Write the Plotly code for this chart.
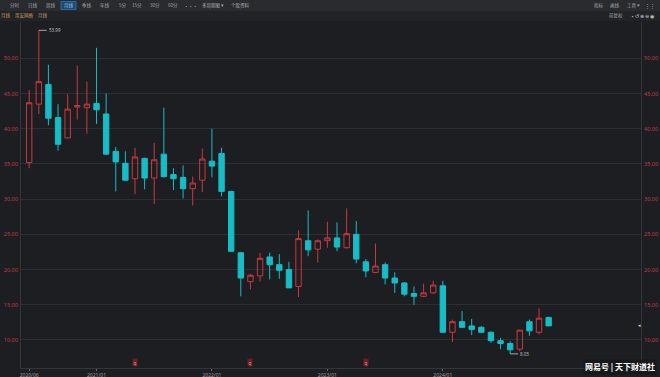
import plotly.graph_objects as go

months = ["2020/06","2020/07","2020/08","2020/09","2020/10","2020/11","2020/12",
          "2021/01","2021/02","2021/03","2021/04","2021/05","2021/06","2021/07","2021/08","2021/09","2021/10","2021/11","2021/12",
          "2022/01","2022/02","2022/03","2022/04","2022/05","2022/06","2022/07","2022/08","2022/09","2022/10","2022/11","2022/12",
          "2023/01","2023/02","2023/03","2023/04","2023/05","2023/06","2023/07","2023/08","2023/09","2023/10","2023/11","2023/12",
          "2024/01","2024/02","2024/03","2024/04","2024/05","2024/06","2024/07","2024/08","2024/09","2024/10","2024/11","2024/12"]
opens = [35.2,43.5,46.3,41.6,38.7,43.1,43.0,
         43.6,42.1,36.8,35.1,32.9,35.8,33.0,36.4,33.5,33.1,31.5,32.7,
         35.4,36.5,31.1,22.4,18.3,19.1,21.8,20.7,20.0,17.6,24.1,22.9,
         24.1,24.5,23.1,25.0,21.1,19.6,20.7,18.8,18.1,16.6,16.2,16.7,
         17.7,11.1,12.6,12.0,11.8,11.1,9.9,9.5,8.7,12.6,11.1,13.2]
highs = [45.5,53.99,49.1,43.5,44.9,49.0,46.7,
         51.5,45.0,37.4,36.8,37.3,35.9,38.0,43.0,34.4,34.8,33.2,37.2,
         40.0,37.3,31.2,22.4,19.4,22.4,22.4,22.2,21.1,25.6,28.4,24.3,
         26.8,26.7,28.7,26.9,21.5,23.7,21.0,19.6,18.2,17.6,18.0,18.4,
         18.4,12.9,14.1,13.0,12.0,11.2,10.3,9.8,11.4,12.9,14.5,13.3]
lows = [34.4,42.1,40.5,36.9,38.6,41.3,39.3,
        40.7,36.3,31.1,32.6,30.7,31.4,29.3,33.1,31.3,30.1,29.1,31.0,
        33.1,30.4,22.5,16.2,17.2,18.3,18.6,18.7,17.4,16.1,21.9,21.0,
        23.1,22.6,23.0,20.9,18.9,19.5,17.9,16.7,16.2,15.0,16.1,16.6,
        11.0,9.7,11.7,10.7,11.0,9.6,8.7,8.03,8.4,10.6,10.8,12.0]
closes = [43.7,46.7,41.5,37.8,42.8,43.3,43.5,
          42.7,36.4,35.3,32.7,36.0,33.0,35.6,33.2,32.9,31.5,32.3,35.7,
          34.7,31.1,22.6,18.8,19.2,21.6,20.7,19.9,17.4,24.4,22.8,24.1,
          24.5,23.2,25.1,21.5,19.8,20.5,18.8,18.1,16.5,16.2,16.7,17.8,
          11.1,12.6,11.8,11.5,11.1,9.9,9.5,8.6,11.4,11.3,13.1,12.0]
x_ticks = ["2020/06","2021/01","2022/01","2023/01","2024/01"]
y_ticks = [10,15,20,25,30,35,40,45,50]
tab_labels = ["分时","日线","周线","月线","季线","年线","5分","15分","30分","60分","•••","多周期图 ▾","个股资料"]
right_tabs = ["指标","画线","工具 ▾"]

W, H = 660, 377
L, R, T, B = 21, 19, 22, 9
PW, PH = W - L - R, H - T - B

def px(x):
    return (x - L) / PW

def py(y):
    return (H - B - y) / PH

BG = "#1d1e22"
RED = "#c8393f"
CYAN = "#17bcc6"
TICKRED = "#c23a44"
CJK = "Noto Sans CJK SC"

fig = go.Figure()
fig.add_trace(go.Candlestick(
    x=months, open=opens, high=highs, low=lows, close=closes,
    increasing=dict(line=dict(color=RED, width=1), fillcolor="rgba(0,0,0,0)"),
    decreasing=dict(line=dict(color=CYAN, width=1), fillcolor=CYAN),
    whiskerwidth=0, hoverinfo="skip", showlegend=False,
))
fig.add_trace(go.Scatter(x=[months[0]], y=[None], yaxis="y2", showlegend=False, hoverinfo="skip"))

shapes = []
annotations = []
shapes.append(dict(type="rect", xref="paper", yref="paper", x0=px(0), x1=px(W), y0=py(0), y1=py(11),
                   fillcolor="#2a2b2f", line=dict(width=0), layer="below"))
shapes.append(dict(type="rect", xref="paper", yref="paper", x0=px(0), x1=px(W), y0=py(11), y1=py(21),
                   fillcolor="#222327", line=dict(width=0), layer="below"))
shapes.append(dict(type="rect", xref="paper", yref="paper", x0=px(61), x1=px(76), y0=py(1.5), y1=py(9.5),
                   fillcolor="#1c4a73", line=dict(color="#2d6aa0", width=1)))

tab_x = [15, 33, 51, 68.5, 87, 105, 122, 137, 155, 173, 191, 213, 240]
for lbl, xx in zip(tab_labels, tab_x):
    annotations.append(dict(xref="paper", yref="paper", x=px(xx), y=py(5.5), text=lbl, showarrow=False,
                            font=dict(size=4.5, color="#9fc7ee" if lbl == "月线" else "#a7a8ad", family=CJK),
                            xanchor="center", yanchor="middle"))
for lbl, xx in zip(right_tabs, [599, 615, 633]):
    annotations.append(dict(xref="paper", yref="paper", x=px(xx), y=py(5.5), text=lbl, showarrow=False,
                            font=dict(size=4.5, color="#a7a8ad", family=CJK),
                            xanchor="center", yanchor="middle"))
annotations.append(dict(xref="paper", yref="paper", x=px(650), y=py(5.5), text="⋮⋮", showarrow=False,
                        font=dict(size=5, color="#a7a8ad"), xanchor="center", yanchor="middle"))
for lbl, xx, col in [("月线", 6, "#d09a5a"), ("用友网络", 24, "#d09a5a"), ("月线", 43, "#b9a07a")]:
    annotations.append(dict(xref="paper", yref="paper", x=px(xx), y=py(15.5), text=lbl, showarrow=False,
                            font=dict(size=4.5, color=col, family=CJK),
                            xanchor="center", yanchor="middle"))
annotations.append(dict(xref="paper", yref="paper", x=px(616), y=py(15.5), text="前复权", showarrow=False,
                        font=dict(size=4.5, color="#a7a8ad", family=CJK),
                        xanchor="center", yanchor="middle"))
annotations.append(dict(xref="paper", yref="paper", x=px(643), y=py(15.5), text="▪ ↺ ⊕ ⊖ ◉", showarrow=False,
                        font=dict(size=4.5, color="#c8c9cc"), xanchor="center", yanchor="middle"))

annotations.append(dict(x=months[1], y=53.99, xref="x", yref="y", text="53.99", showarrow=True,
                        arrowhead=0, arrowwidth=0.8, arrowcolor="#c8c9cc", ax=8, ay=0,
                        xanchor="left", font=dict(size=4.5, color="#c8c9cc")))
annotations.append(dict(x=months[50], y=8.03, xref="x", yref="y", text="8.03", showarrow=True,
                        arrowhead=0, arrowwidth=0.8, arrowcolor="#c8c9cc", ax=8, ay=0,
                        xanchor="left", font=dict(size=4.5, color="#c8c9cc")))

for m in ["2021/05", "2022/05", "2023/05"]:
    annotations.append(dict(x=m, xref="x", yref="paper", y=py(362), text="q", showarrow=False,
                            font=dict(size=4.5, color="#e9a0a0"), bgcolor="#6e1c22", borderpad=0.5,
                            xanchor="center", yanchor="middle"))
annotations.append(dict(xref="paper", yref="paper", x=px(639), y=py(325), text="◂", showarrow=False,
                        font=dict(size=5, color="#d0d0d0"), xanchor="center", yanchor="middle"))
annotations.append(dict(xref="paper", yref="paper", x=px(657), y=py(367), text="<b>网易号 | 天下财道社</b>",
                        showarrow=False, font=dict(size=8, color="#ffffff", family=CJK),
                        xanchor="right", yanchor="middle", bgcolor="rgba(20,20,22,0.6)"))

fig.update_layout(
    width=W, height=H,
    margin=dict(l=L, r=R, t=T, b=B, pad=0, autoexpand=False),
    paper_bgcolor=BG, plot_bgcolor=BG,
    boxgap=0.2, boxmode="overlay",
    showlegend=False,
    shapes=shapes, annotations=annotations,
    xaxis=dict(type="category", range=[-0.85, 63.6], rangeslider=dict(visible=False),
               tickvals=x_ticks, ticktext=x_ticks, showgrid=False, zeroline=False, automargin=False,
               showline=True, linecolor="#34353a", linewidth=1,
               ticks="outside", ticklen=2, tickcolor="#6a6b70",
               tickfont=dict(size=5, color="#9a9ba0", family="Noto Sans")),
    yaxis=dict(range=[6.02, 55.17], tickvals=y_ticks, ticktext=[f"{v:.2f}" for v in y_ticks],
               showgrid=True, gridcolor="#2e2f34", gridwidth=1, zeroline=False, automargin=False,
               showline=True, linecolor="#34353a", ticks="", ticklabelstandoff=1,
               tickfont=dict(size=5.5, color=TICKRED, family="Noto Sans")),
    yaxis2=dict(range=[6.02, 55.17], overlaying="y", side="right", tickvals=y_ticks,
                ticktext=[f"{v:.2f}" for v in y_ticks], showgrid=False, zeroline=False, automargin=False,
                showline=True, linecolor="#34353a", ticks="", ticklabelstandoff=1,
                tickfont=dict(size=5.5, color=TICKRED, family="Noto Sans")),
)

fig.write_html("out.html", config={"displayModeBar": False},
               post_script="document.body.style.margin='0';document.body.style.background='" + BG + "';")
